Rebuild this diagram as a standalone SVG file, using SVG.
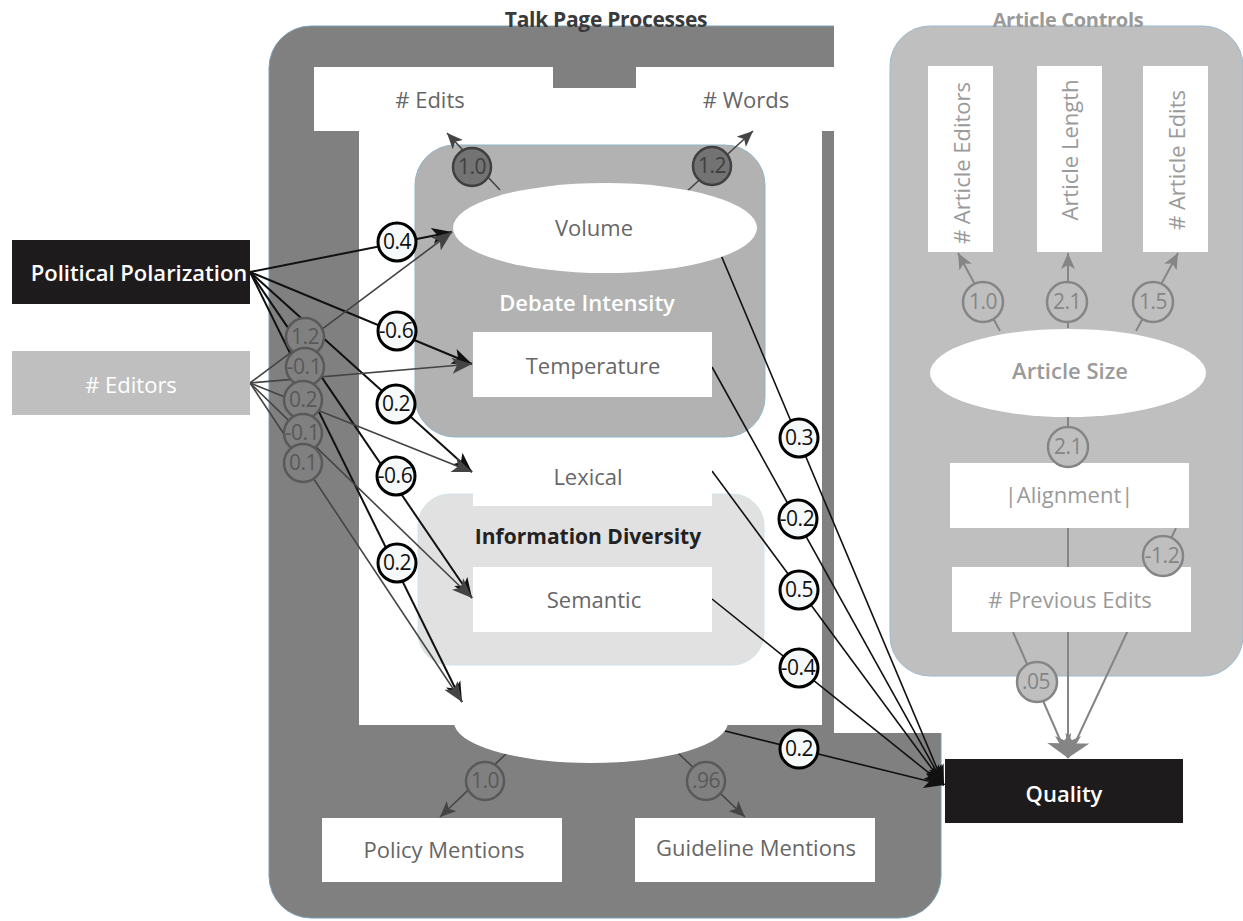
<svg xmlns="http://www.w3.org/2000/svg" width="1243" height="921" viewBox="0 0 1243 921">
<style>
text{font-family:"Open Sans",Lato,"Liberation Sans",sans-serif;text-anchor:middle;dominant-baseline:central}
.n{font-size:22px;fill:#666}
.nc{font-size:22px;fill:#9a9a9a}
.w{font-size:22px;fill:#fff;font-weight:600}
.lb{fill:#f6f9f9;stroke:#000;stroke-width:3}
.lbt{font-size:21px;fill:#111;letter-spacing:-0.5px}
.lg{fill:#808080;stroke:#595959;stroke-width:2.5}
.lgt{font-size:21px;fill:#595959;letter-spacing:-0.5px}
.lc{fill:#bfbfbf;stroke:#858585;stroke-width:2.5}
.lct{font-size:21px;fill:#858585;letter-spacing:-0.5px}
.eb{stroke:#111;stroke-width:2;fill:none}
.eg{stroke:#444;stroke-width:1.6;fill:none}
.eq{stroke:#111;stroke-width:1.6;fill:none}
.ec{stroke:#858585;stroke-width:2;fill:none}
.box{fill:#fff}
</style>
<defs>
<marker id="mb" markerUnits="userSpaceOnUse" markerWidth="22" markerHeight="18" refX="20" refY="9" orient="auto"><path d="M0,1 L20,9 L0,17 L5,9 z" fill="#111"/></marker>
<marker id="mg" markerUnits="userSpaceOnUse" markerWidth="22" markerHeight="18" refX="20" refY="9" orient="auto"><path d="M0,1 L20,9 L0,17 L5,9 z" fill="#444"/></marker>
<marker id="ms" markerUnits="userSpaceOnUse" markerWidth="18" markerHeight="14" refX="16" refY="7" orient="auto"><path d="M0,0 L16,7 L0,14 L4,7 z" fill="#444"/></marker>
<marker id="mc" markerUnits="userSpaceOnUse" markerWidth="18" markerHeight="14" refX="16" refY="7" orient="auto"><path d="M0,0 L16,7 L0,14 L4,7 z" fill="#858585"/></marker>
<marker id="mcl" markerUnits="userSpaceOnUse" markerWidth="24" markerHeight="26" refX="22" refY="13" orient="auto"><path d="M0,0 L22,13 L0,26 L6,13 z" fill="#858585"/></marker>
</defs>
<rect width="1243" height="921" fill="#fff"/>

<g id="talk-page-processes">
<rect x="269" y="26" width="672" height="892" rx="42" fill="#808080" stroke="#7aa0b4" stroke-width="1"/>
<rect x="834" y="0" width="130" height="733" fill="#fff"/>
<rect x="314" y="67" width="520" height="64" fill="#fff"/>
<rect x="553" y="67" width="83" height="21" fill="#808080"/>
<rect x="359" y="131" width="463" height="594" fill="#fff"/>
<text x="606" y="19" style="font-size:21px;font-weight:700;fill:#3a3a3a;letter-spacing:-0.3px">Talk Page Processes</text>
</g>

<g id="article-controls">
<rect x="890" y="26" width="353" height="650" rx="40" fill="#bfbfbf" stroke="#9bbccc" stroke-width="1"/>
<text x="1068" y="19" style="font-size:20px;font-weight:700;fill:#9a9a9a;letter-spacing:-0.3px">Article Controls</text>
</g>

<g id="debate-intensity">
<rect x="415" y="145" width="350" height="292" rx="40" fill="#b2b2b2" stroke="#8fb4c6" stroke-width="1"/>
<text x="587" y="302" style="font-size:22px;font-weight:600;fill:#fff">Debate Intensity</text>
</g>

<g id="information-diversity">
<rect x="418" y="494" width="346" height="171" rx="32" fill="#e1e1e1" stroke="#d0e2ea" stroke-width="1"/>
</g>

<g id="connectors">
<path class="eb" d="M250,272 L452,232" marker-end="url(#mb)"/>
<path class="eb" d="M250,272 L472,364" marker-end="url(#mb)"/>
<path class="eb" d="M250,272 L472,472" marker-end="url(#mb)"/>
<path class="eb" d="M250,272 L472,598" marker-end="url(#mb)"/>
<path class="eb" d="M250,272 L462,702" marker-end="url(#mb)"/>
<path class="eg" d="M250,383 L452,232" marker-end="url(#mg)"/>
<path class="eg" d="M250,383 L472,364" marker-end="url(#mg)"/>
<path class="eg" d="M250,383 L472,472" marker-end="url(#mg)"/>
<path class="eg" d="M250,383 L472,598" marker-end="url(#mg)"/>
<path class="eg" d="M250,383 L462,702" marker-end="url(#mg)"/>
<path class="eg" d="M500,190 L447,133" marker-end="url(#ms)"/>
<path class="eg" d="M684,194 L753,131" marker-end="url(#ms)"/>
<path class="eg" d="M508,752 L440,817" marker-end="url(#ms)"/>
<path class="eg" d="M677,752 L745,817" marker-end="url(#ms)"/>
<path class="eq" d="M718,248 L944,785" marker-end="url(#mb)"/>
<path class="eq" d="M712,367 L944,785" marker-end="url(#mb)"/>
<path class="eq" d="M712,471 L944,785" marker-end="url(#mb)"/>
<path class="eq" d="M712,599 L944,785" marker-end="url(#mb)"/>
<path class="eq" d="M725,731 L944,785" marker-end="url(#mb)"/>
<path class="ec" d="M1000,331 L958,253" marker-end="url(#mc)"/>
<path class="ec" d="M1068,328 L1068,253" marker-end="url(#mc)"/>
<path class="ec" d="M1136,331 L1178,253" marker-end="url(#mc)"/>
<path class="ec" d="M1068,416 L1068,463"/>
<path class="ec" d="M1068,528 L1068,758" marker-end="url(#mcl)"/>
<path class="ec" d="M1176,528 L1068,758" marker-end="url(#mcl)"/>
<path class="ec" d="M1013,632 L1068,758" marker-end="url(#mcl)"/>
</g>

<g id="political-polarization">
<rect x="12" y="240" width="238" height="64" fill="#1e1b1c"/>
<text class="w" x="139" y="272">Political Polarization</text>
</g>
<g id="editors">
<rect x="12" y="351" width="238" height="64" fill="#bfbfbf"/>
<text class="w" x="131" y="384" style="font-weight:400"># Editors</text>
</g>
<g id="edits">
<text class="n" x="430" y="99"># Edits</text>
</g>
<g id="words">
<text class="n" x="746" y="99"># Words</text>
</g>
<g id="volume">
<ellipse cx="605" cy="228" rx="152" ry="45" fill="#fff"/>
<text class="n" x="594" y="227">Volume</text>
</g>
<g id="temperature">
<rect class="box" x="473" y="332" width="239" height="65"/>
<text class="n" x="593" y="365">Temperature</text>
</g>
<g id="lexical">
<rect class="box" x="473" y="442" width="239" height="64"/>
<text class="n" x="588" y="476">Lexical</text>
</g>
<text x="588" y="536" style="font-size:21px;font-weight:700;fill:#222">Information Diversity</text>
<g id="semantic">
<rect class="box" x="473" y="567" width="239" height="65"/>
<text class="n" x="594" y="599">Semantic</text>
</g>
<g id="policy-adherence">
<ellipse cx="591" cy="722" rx="137" ry="41" fill="#fff"/>
</g>
<g id="policy-mentions">
<rect class="box" x="322" y="818" width="240" height="64"/>
<text class="n" x="444" y="849">Policy Mentions</text>
</g>
<g id="guideline-mentions">
<rect class="box" x="635" y="818" width="240" height="64"/>
<text class="n" x="756" y="847">Guideline Mentions</text>
</g>
<g id="quality">
<rect x="945" y="759" width="238" height="64" fill="#1e1b1c"/>
<text class="w" x="1064" y="793">Quality</text>
</g>
<g id="article-editors">
<rect class="box" x="928" y="66" width="65" height="186"/>
<text class="nc" transform="translate(961,163) rotate(-90)"># Article Editors</text>
</g>
<g id="article-length">
<rect class="box" x="1037" y="66" width="65" height="186"/>
<text class="nc" transform="translate(1069,150) rotate(-90)">Article Length</text>
</g>
<g id="article-edits">
<rect class="box" x="1143" y="66" width="65" height="186"/>
<text class="nc" transform="translate(1176,160) rotate(-90)"># Article Edits</text>
</g>
<g id="article-size">
<ellipse cx="1068" cy="373" rx="138" ry="44" fill="#fff"/>
<text class="nc" x="1070" y="370" style="font-weight:600">Article Size</text>
</g>
<g id="alignment">
<rect class="box" x="950" y="463" width="239" height="65"/>
<text class="nc" x="1069" y="494">|Alignment|</text>
</g>
<g id="previous-edits">
<rect class="box" x="952" y="567" width="239" height="65"/>
<text class="nc" x="1070" y="599"># Previous Edits</text>
</g>

<g id="connector-labels">
<circle class="lb" cx="397" cy="242" r="19"/><text class="lbt" x="397" y="241">0.4</text>
<circle class="lb" cx="397" cy="331" r="19"/><text class="lbt" x="396" y="330">-0.6</text>
<circle class="lb" cx="396" cy="404" r="19"/><text class="lbt" x="396" y="403">0.2</text>
<circle class="lb" cx="396" cy="476" r="19"/><text class="lbt" x="395" y="475">-0.6</text>
<circle class="lb" cx="397" cy="563" r="19"/><text class="lbt" x="397" y="562">0.2</text>
<circle class="lg" cx="305" cy="337" r="19"/><text class="lgt" x="305" y="336">1.2</text>
<circle class="lg" cx="305" cy="367" r="19"/><text class="lgt" x="304" y="366">-0.1</text>
<circle class="lg" cx="303" cy="400" r="19"/><text class="lgt" x="303" y="399">0.2</text>
<circle class="lg" cx="303" cy="433" r="19"/><text class="lgt" x="302" y="432">-0.1</text>
<circle class="lg" cx="303" cy="463" r="19"/><text class="lgt" x="303" y="462">0.1</text>
<circle cx="472" cy="167" r="19" fill="#737373" stroke="#404040" stroke-width="2.5"/><text class="lgt" x="472" y="166" style="fill:#404040">1.0</text>
<circle cx="712" cy="166" r="19" fill="#737373" stroke="#404040" stroke-width="2.5"/><text class="lgt" x="712" y="165" style="fill:#404040">1.2</text>
<circle class="lg" cx="485" cy="781" r="19"/><text class="lgt" x="485" y="780">1.0</text>
<circle class="lg" cx="706" cy="781" r="19"/><text class="lgt" x="706" y="780">.96</text>
<circle class="lb" cx="799" cy="438" r="19"/><text class="lbt" x="799" y="437">0.3</text>
<circle class="lb" cx="798" cy="519" r="19"/><text class="lbt" x="797" y="518">-0.2</text>
<circle class="lb" cx="799" cy="590" r="19"/><text class="lbt" x="799" y="589">0.5</text>
<circle class="lb" cx="799" cy="668" r="19"/><text class="lbt" x="798" y="667">-0.4</text>
<circle class="lb" cx="799" cy="749" r="19"/><text class="lbt" x="799" y="748">0.2</text>
<circle class="lc" cx="983" cy="302" r="20"/><text class="lct" x="983" y="301">1.0</text>
<circle class="lc" cx="1067" cy="302" r="20"/><text class="lct" x="1067" y="301">2.1</text>
<circle class="lc" cx="1153" cy="302" r="20"/><text class="lct" x="1153" y="301">1.5</text>
<circle class="lc" cx="1068" cy="447" r="20"/><text class="lct" x="1068" y="446">2.1</text>
<circle class="lc" cx="1163" cy="556" r="20"/><text class="lct" x="1162" y="555">-1.2</text>
<circle class="lc" cx="1037" cy="682" r="20"/><text class="lct" x="1036" y="681">.05</text>
</g>
</svg>
